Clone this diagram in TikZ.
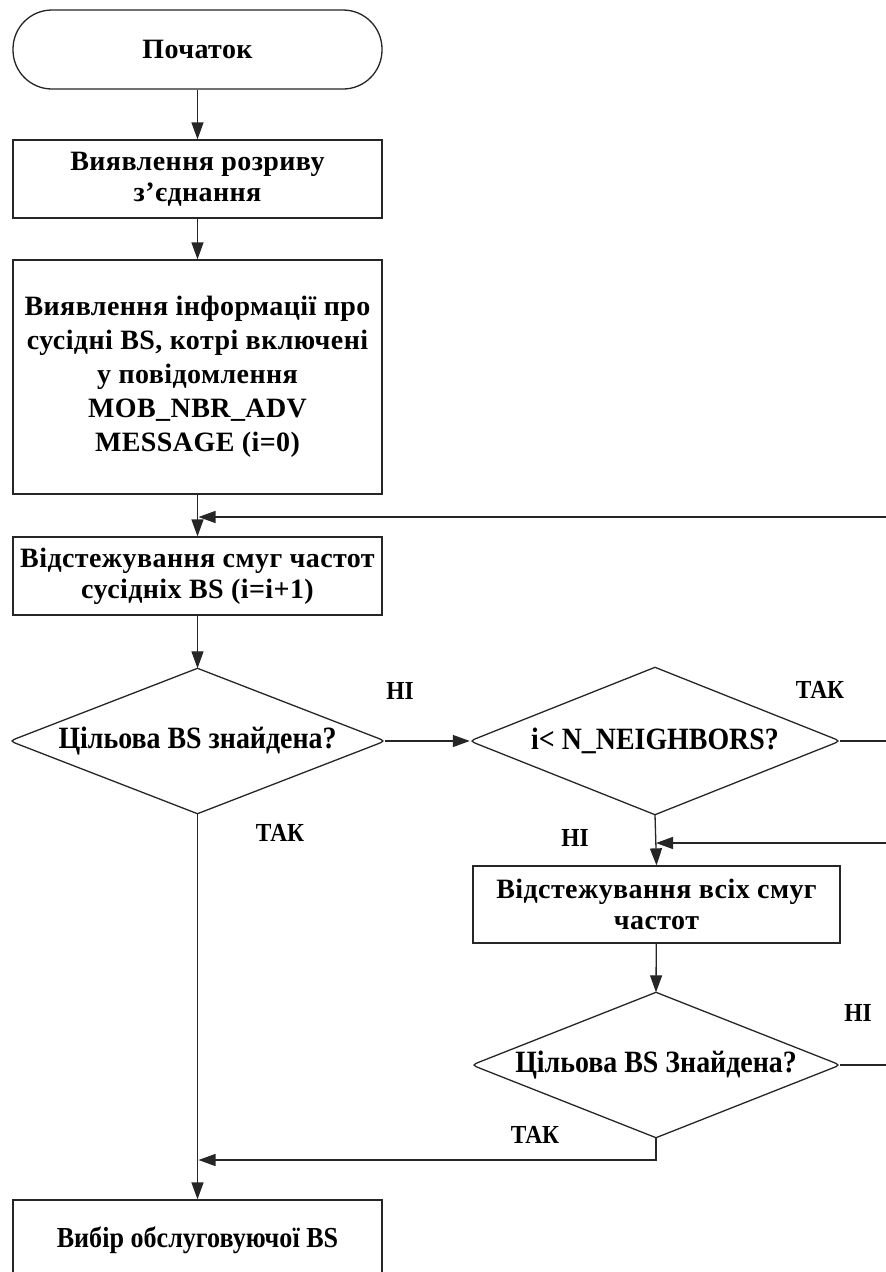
\documentclass[tikz,border=0pt]{standalone}
\usepackage{fontspec}
\setmainfont{Liberation Serif}
\newfontfamily\boxfont{Liberation Serif}[LetterSpace=1.5]
\newfontfamily\narrowfont{Liberation Serif}[FakeStretch=0.9]
\usetikzlibrary{arrows.meta,calc,shapes.geometric}

\tikzset{
  flow/.style={line width=1.3pt, draw=black!85},
  arr/.style={flow, -{Triangle[length=17pt,width=12pt]}},
  blockbox/.style={draw=black!85, line width=1.3pt, rectangle, minimum width=369pt,
    align=center, font=\boxfont\fontsize{28}{31}\selectfont\bfseries, inner sep=0pt},
  termbox/.style={blockbox, rounded corners=39pt},
  choice/.style={diamond, draw=none, inner sep=0pt, aspect=2.55,
    font=\narrowfont\fontsize{31}{34}\selectfont\bfseries},
  tag/.style={font=\narrowfont\fontsize{26}{30}\selectfont\bfseries, inner sep=0pt}
}

% diamond outline with softened side corners
\newcommand\choiceoutline[1]{%
  \draw[flow]
    (#1.north) -- ($(#1.east)!0.05!(#1.north)$)
    .. controls (#1.east) .. ($(#1.east)!0.05!(#1.south)$)
    -- (#1.south) -- ($(#1.west)!0.05!(#1.south)$)
    .. controls (#1.west) .. ($(#1.west)!0.05!(#1.north)$) -- cycle;}

\begin{document}
\begin{tikzpicture}[x=1pt,y=-1pt]
  \useasboundingbox (0,0) rectangle (886,1272);
  \fill[white] (0,0) rectangle (886,1272);

  % left column
  \node[termbox, minimum height=79pt] (start) at (197.5,49.5) {Початок};
  \node[blockbox, minimum height=78pt] (detect) at (197.5,179)
    {Виявлення розриву\\з’єднання};
  \node[blockbox, minimum height=234pt, font=\boxfont\fontsize{28}{34}\selectfont\bfseries] (info) at (197.5,377)
    {Виявлення інформації про\\сусідні BS, котрі включені\\у повідомлення\\MOB\_NBR\_ADV\\MESSAGE (i=0)};
  \node[blockbox, minimum height=78pt] (scan) at (197.5,576)
    {Відстежування смуг частот\\сусідніх BS (i=i+1)};
  \node[choice, minimum width=375pt, minimum height=145pt] (found) at (197.5,741)
    {Цільова BS знайдена?};
  \node[blockbox, minimum height=80pt, font=\narrowfont\fontsize{29}{31}\selectfont\bfseries] (serve) at (197.5,1240)
    {\raisebox{3pt}{Вибір обслуговуючої BS}};

  % right column
  \node[choice, minimum width=370pt, minimum height=147pt] (count) at (655,741)
    {i< N\_NEIGHBORS?};
  \node[blockbox, minimum width=367pt, minimum height=77pt] (scanall) at (656.5,904.5)
    {Відстежування всіх смуг\\частот};
  \node[choice, minimum width=368pt, minimum height=145pt] (found2) at (656,1065)
    {Цільова BS Знайдена?};

  \choiceoutline{found}
  \choiceoutline{count}
  \choiceoutline{found2}

  % loop ends at the right border
  \coordinate (edgeA) at (886,741);
  \coordinate (backA) at (886,517);
  \coordinate (edgeB) at (886,1065);
  \coordinate (backB) at (886,843);
  \coordinate (joinC) at (656,1160);

  % connectors
  \draw[arr] (start) -- (detect);
  \draw[arr] (detect) -- (info);
  \draw[arr] (info) -- (scan);
  \draw[arr] (backA) -- ([xshift=1pt]info.south |- backA);
  \draw[arr] (scan) -- (found);
  \draw[arr] (found.east) -- (count.west);
  \draw[flow] (count.east) -- (edgeA);
  \draw[arr] (found.south) -- (serve.north);
  \draw[arr] (count.south) -- (scanall.north);
  \draw[arr] (backB) -- ([xshift=1pt]count.south |- backB);
  \draw[arr] (scanall) -- (found2.north);
  \draw[flow] (found2.east) -- (edgeB);
  \draw[arr] (found2.south) -- (joinC) -- ([xshift=1pt]found.south |- joinC);

  % branch labels
  \node[tag] (noA) at (400,691) {НІ};
  \node[tag] (yesA) at (820,690) {ТАК};
  \node[tag] (yesB) at (280,833) {ТАК};
  \node[tag] (noB) at (575,838) {НІ};
  \node[tag] (noC) at (858,1013) {НІ};
  \node[tag] (yesC) at (535,1135) {ТАК};
\end{tikzpicture}
\end{document}
